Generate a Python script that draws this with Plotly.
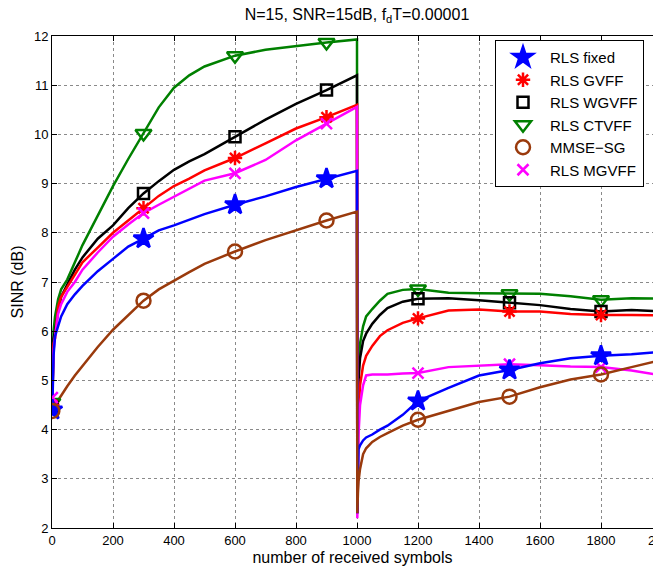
import plotly.graph_objects as go

# ---------------- data ----------------
X_FIRST = [1, 3, 5, 10, 20, 30, 50, 75, 100, 150, 200, 250, 300, 350, 400, 450,
           500, 600, 700, 800, 900, 1000]
X_SECOND = [1001, 1003, 1005, 1010, 1020, 1030, 1050, 1075, 1100, 1150, 1200,
            1300, 1400, 1500, 1600, 1700, 1800, 1900, 2000]

rls_fixed_1 = [4.40, 4.80, 5.50, 5.90, 6.10, 6.30, 6.55, 6.75, 6.92, 7.22, 7.47,
               7.72, 7.88, 8.05, 8.15, 8.27, 8.38, 8.57, 8.74, 8.93, 9.10, 9.26]
rls_fixed_2 = [2.30, 3.50, 3.60, 3.68, 3.78, 3.84, 3.90, 4.00, 4.08, 4.30, 4.58,
               4.85, 5.10, 5.21, 5.35, 5.45, 5.50, 5.53, 5.58]

rls_gvff_1 = [4.50, 5.70, 5.75, 5.85, 6.50, 6.70, 6.90, 7.15, 7.40, 7.70, 8.00,
              8.25, 8.50, 8.75, 8.95, 9.10, 9.27, 9.52, 9.82, 10.12, 10.35, 10.60]
rls_gvff_2 = [2.30, 3.90, 4.40, 4.90, 5.30, 5.50, 5.70, 5.90, 6.02, 6.17, 6.26,
              6.42, 6.44, 6.40, 6.40, 6.35, 6.33, 6.33, 6.32]

rls_wgvff_1 = [4.45, 5.50, 5.85, 6.00, 6.40, 6.70, 6.95, 7.25, 7.50, 7.88, 8.15,
               8.50, 8.80, 9.05, 9.28, 9.45, 9.60, 9.95, 10.30, 10.62, 10.90, 11.20]
rls_wgvff_2 = [2.30, 4.60, 5.00, 5.45, 5.80, 5.95, 6.15, 6.33, 6.47, 6.60, 6.66,
               6.67, 6.63, 6.58, 6.53, 6.45, 6.40, 6.43, 6.40]

rls_ctvff_1 = [4.55, 5.60, 6.00, 6.30, 6.65, 6.85, 7.05, 7.40, 7.75, 8.35, 8.95,
               9.50, 10.02, 10.55, 10.95, 11.20, 11.38, 11.60, 11.72, 11.80, 11.87, 11.93]
rls_ctvff_2 = [2.30, 4.90, 5.35, 5.75, 6.10, 6.30, 6.45, 6.62, 6.76, 6.84, 6.86,
               6.78, 6.77, 6.76, 6.76, 6.71, 6.64, 6.67, 6.66]

mmse_sg_1 = [4.38, 4.42, 4.45, 4.50, 4.60, 4.70, 4.88, 5.10, 5.30, 5.68, 6.03,
             6.33, 6.62, 6.85, 7.03, 7.20, 7.37, 7.62, 7.85, 8.05, 8.25, 8.43]
mmse_sg_2 = [2.30, 2.70, 2.95, 3.20, 3.50, 3.62, 3.75, 3.85, 3.93, 4.08, 4.20,
             4.38, 4.56, 4.67, 4.86, 5.02, 5.12, 5.27, 5.42]

rls_mgvff_1 = [4.65, 5.20, 5.60, 5.90, 6.35, 6.55, 6.80, 7.00, 7.25, 7.60, 7.92,
               8.17, 8.40, 8.57, 8.73, 8.90, 9.06, 9.21, 9.48, 9.88, 10.22, 10.56]
rls_mgvff_2 = [2.20, 3.30, 3.90, 4.50, 4.90, 5.10, 5.12, 5.12, 5.12, 5.14, 5.15,
               5.27, 5.30, 5.33, 5.31, 5.28, 5.27, 5.20, 5.10]

MARKER_X = [1, 300, 600, 900, 1200, 1500, 1800]

X_TICKS = [0, 200, 400, 600, 800, 1000, 1200, 1400, 1600, 1800]
Y_TICKS = [2, 3, 4, 5, 6, 7, 8, 9, 10, 11, 12]

TITLE = "N=15, SNR=15dB, f<sub>d</sub>T=0.00001"
X_LABEL = "number of received symbols"
Y_LABEL = "SINR (dB)"

# name, first half, second half, color, symbol, size, legend rank
SERIES = [
    ("RLS CTVFF", rls_ctvff_1, rls_ctvff_2, "#008000", "triangle-down-open", 14, 4),
    ("RLS WGVFF", rls_wgvff_1, rls_wgvff_2, "#000000", "square-open", 11, 3),
    ("RLS GVFF", rls_gvff_1, rls_gvff_2, "#ff0000", "asterisk-open", 12, 2),
    ("RLS MGVFF", rls_mgvff_1, rls_mgvff_2, "#ff00ff", "x-thin-open", 11, 6),
    ("RLS fixed", rls_fixed_1, rls_fixed_2, "#0000ff", "star", 15, 1),
    ("MMSE\u2212SG", mmse_sg_1, mmse_sg_2, "#9a3a0c", "circle-open", 14, 5),
]

FONT = "Liberation Sans, Arial, Helvetica, sans-serif"

fig = go.Figure()
xs = X_FIRST + X_SECOND
for name, y1, y2, color, sym, size, rank in SERIES:
    ys = y1 + y2
    fig.add_trace(go.Scatter(x=xs, y=ys, mode="lines", showlegend=False,
                             line=dict(color=color, width=2.5), hoverinfo="skip"))
for name, y1, y2, color, sym, size, rank in SERIES:
    ys = y1 + y2
    lookup = dict(zip(xs, ys))
    my = [lookup[v] for v in MARKER_X]
    fig.add_trace(go.Scatter(
        x=MARKER_X, y=my, mode="markers", name=name, legendrank=rank,
        marker=dict(symbol=sym, size=size, color=color,
                    line=dict(color=color, width=2.5)),
    ))

W, H = 653, 572
L, T, B = 52, 36, 44
# full axis in the reference spans 0..2000 over 610 px; window cuts at 653 px
px_per_unit = 610 / 2000
x_max = (W - L) / px_per_unit

fig.update_layout(
    width=W, height=H,
    margin=dict(l=L, r=0, t=T, b=B),
    paper_bgcolor="white", plot_bgcolor="white",
    font=dict(family=FONT, size=13, color="black"),
    title=dict(text=TITLE, x=(357 - L) / (W - L), xref="paper", xanchor="center",
               y=1 - 14 / H, yanchor="middle", font=dict(size=16)),
    showlegend=True,
    legend=dict(x=(495 - L) / (W - L), y=1 - 4 / (H - T - B), xanchor="left", yanchor="top",
                bgcolor="white", bordercolor="black", borderwidth=1,
                font=dict(size=15, family=FONT), itemwidth=44,
                traceorder="normal"),
)
fig.update_xaxes(
    range=[0, x_max], tickvals=X_TICKS, ticktext=[str(v) for v in X_TICKS],
    ticks="inside", ticklen=5, tickcolor="black", showline=True, linecolor="black",
    linewidth=1, mirror="ticks", showgrid=True, gridcolor="#8a8a8a", griddash="dot",
    gridwidth=1, zeroline=False, tickfont=dict(size=13),
    title=dict(text=X_LABEL, font=dict(size=16), standoff=5),
)
fig.update_yaxes(
    range=[2, 12], tickvals=Y_TICKS, ticks="inside", ticklen=5, tickcolor="black",
    showline=True, linecolor="black", linewidth=1, mirror=False, showgrid=True,
    gridcolor="#8a8a8a", griddash="dot", gridwidth=1, zeroline=False,
    tickfont=dict(size=13),
    title=dict(text=Y_LABEL, font=dict(size=16), standoff=6),
)
# tick label "2000" cut off by the window edge, as in the reference
fig.add_annotation(text="2000", xref="paper", yref="paper",
                   x=(662 - L) / (W - L), y=0, xanchor="center", yanchor="top",
                   yshift=-3, showarrow=False, font=dict(size=13, family=FONT))

fig.write_html("out.html")
